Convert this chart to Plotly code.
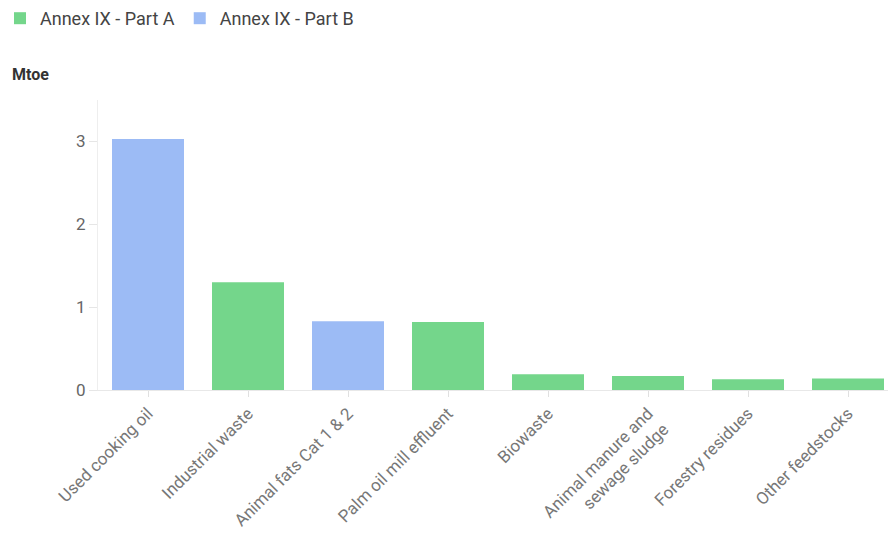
import plotly.graph_objects as go

categories = ["Used cooking oil", "Industrial waste", "Animal fats Cat 1 & 2",
              "Palm oil mill effluent", "Biowaste", "Animal manure and<br>sewage sludge",
              "Forestry residues", "Other feedstocks"]
part_a = [None, 1.30, None, 0.82, 0.19, 0.17, 0.13, 0.14]
part_b = [3.03, None, 0.83, None, None, None, None, None]
y_ticks = [0, 1, 2, 3]

green = "#74D68B"
blue = "#9CBBF5"

fig = go.Figure()
fig.add_trace(go.Bar(x=categories, y=part_a, name="Annex IX - Part A",
                     marker=dict(color=green, line=dict(width=0))))
fig.add_trace(go.Bar(x=categories, y=part_b, name="Annex IX - Part B",
                     marker=dict(color=blue, line=dict(width=0))))

fig.update_layout(
    width=888, height=536,
    barmode="relative",
    bargap=0.28,
    plot_bgcolor="white", paper_bgcolor="white",
    margin=dict(l=98, r=0, t=100, b=146),
    font=dict(family="Roboto, Arial, sans-serif", color="#555"),
    legend=dict(orientation="h", x=-0.127, xanchor="left",
                y=1.0, yref="container", yanchor="top",
                font=dict(size=18, color="#444"),
                itemwidth=30, tracegroupgap=0, entrywidth=0),
    showlegend=True,
    annotations=[dict(text="<b>Mtoe</b>", x=(10 - 98) / 790, y=(536 - 146 - 75) / 290,
                      xref="paper", yref="paper",
                      showarrow=False, xanchor="left", yanchor="middle",
                      font=dict(size=16, color="#333"))],
)
fig.update_xaxes(range=[-0.5, 7.4], showline=True, linecolor="#e8e8e8", linewidth=1,
                 ticks="outside", ticklen=6, tickcolor="#e0e0e0",
                 tickangle=-45, tickfont=dict(size=17, color="#777"),
                 showgrid=False)
fig.update_yaxes(range=[0, 3.5], tickvals=y_ticks, showline=True, linecolor="#eeeeee",
                 linewidth=1, ticks="outside", ticklen=8, tickcolor="#e6e6e6",
                 tickfont=dict(size=17, color="#666"), showgrid=False, zeroline=False)

fig.write_html("out.html")
